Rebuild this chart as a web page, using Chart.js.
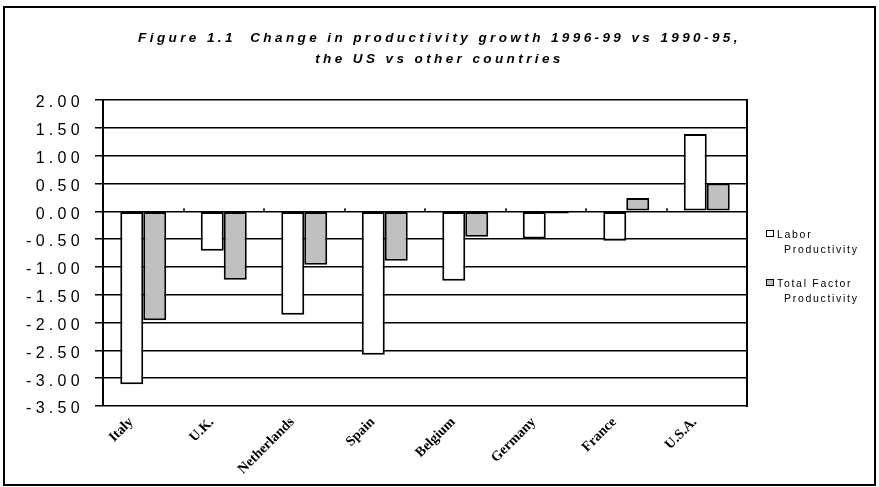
<!DOCTYPE html>
<html>
<head>
<meta charset="utf-8">
<title>Productivity growth</title>
<script src="https://cdn.jsdelivr.net/npm/chart.js@4.4.1/dist/chart.umd.min.js"></script>
<style>
    body { margin: 0; background: #fff; }
    #wrap { position: relative; width: 879px; height: 487px; overflow: hidden; font-family: 'Liberation Sans', Arial, sans-serif; }
    #frame { position: absolute; left: 3px; top: 6px; width: 869px; height: 476px; border: 2px solid #000; }
    #chart { position: absolute; left: 0; top: 0; }
    .title { position: absolute; left: 0; top: 27px; width: 879px; text-align: center; font-weight: bold; font-style: italic; font-size: 13.5px; line-height: 21px; letter-spacing: 3.4px; color: #000; }
    .legend { position: absolute; left: 766px; font-size: 10.5px; line-height: 15px; letter-spacing: 1.7px; color: #000; }
    .legend .box { position: absolute; left: 0; top: 3px; width: 6px; height: 5px; border: 1.5px solid #000; }
    .legend .txt { margin-left: 11px; }
    .legend .txt span { display: block; }
    .legend .txt span + span { margin-left: 7px; }
</style>
</head>
<body>
<div id="wrap">
    <div id="frame"></div>
    <canvas id="chart" width="879" height="487"></canvas>
    <div class="title">Figure 1.1&nbsp; Change in productivity growth 1996-99 vs 1990-95,<br>the US vs other countries</div>
    <div id="legend"></div>
</div>
<script>
// data //
const countries = ['Italy', 'U.K.', 'Netherlands', 'Spain', 'Belgium', 'Germany', 'France', 'U.S.A.'];
const laborProductivity = [-3.11, -0.71, -1.86, -2.58, -1.25, -0.49, -0.53, 1.39];
const totalFactorProductivity = [-1.96, -1.23, -0.96, -0.89, -0.46, -0.04, 0.24, 0.50];
const seriesNames = [['Labor', 'Productivity'], ['Total Factor', 'Productivity']];
const seriesColors = ['#ffffff', '#c0c0c0'];
const yMin = -3.5, yMax = 2, yStep = 0.5;

// small marks on the zero line between countries //
const zeroTicks = {
    id: 'zeroTicks',
    afterDatasetsDraw(chart) {
        const ctx = chart.ctx;
        const x = chart.scales.x, y = chart.scales.y;
        const y0 = y.getPixelForValue(0);
        ctx.save();
        ctx.strokeStyle = '#000';
        ctx.lineWidth = 1.5;
        for (let i = 1; i < countries.length; i++) {
            const px = Math.round((x.getPixelForValue(i - 1) + x.getPixelForValue(i)) / 2);
            ctx.beginPath();
            ctx.moveTo(px, y0 - 3);
            ctx.lineTo(px, y0);
            ctx.stroke();
        }
        ctx.restore();
    }
};

// wide spacing for the value labels, none for the country names //
const spacing = {
    id: 'spacing',
    beforeDraw(chart) { chart.ctx.letterSpacing = '4.3px'; },
    afterDatasetsDraw(chart) { chart.ctx.letterSpacing = '0px'; }
};

const chart = document.querySelector('#chart').getContext('2d');

new Chart(chart, {
    type: 'bar',
    data: {
        labels: countries,
        datasets: [
            {
                label: seriesNames[0].join(' '),
                data: laborProductivity,
                backgroundColor: seriesColors[0],
                borderColor: '#000',
                borderWidth: 2,
                borderSkipped: false
            },
            {
                label: seriesNames[1].join(' '),
                data: totalFactorProductivity,
                backgroundColor: seriesColors[1],
                borderColor: '#000',
                borderWidth: 2,
                borderSkipped: false
            }
        ]
    },
    options: {
        responsive: false,
        animation: false,
        devicePixelRatio: 1,
        barPercentage: 1,
        categoryPercentage: 0.571,
        layout: { padding: { left: 4, right: 132, top: 100, bottom: 0 } },
        plugins: {
            legend: { display: false },
            title: { display: false },
            tooltip: { enabled: false }
        },
        scales: {
            x: {
                grid: { display: false },
                border: { display: false },
                ticks: {
                    z: 1,
                    color: '#000',
                    font: { family: 'Liberation Serif', weight: 'bold', size: 14 },
                    minRotation: 45,
                    maxRotation: 45,
                    autoSkip: false,
                    labelOffset: -12,
                    padding: 0
                },
                afterFit: s => { s.height = 81; }
            },
            y: {
                min: yMin,
                max: yMax,
                ticks: {
                    stepSize: yStep,
                    color: '#000',
                    font: { family: 'Liberation Sans', size: 16 },
                    padding: 11,
                    labelOffset: 3,
                    callback: v => v.toFixed(2)
                },
                grid: { color: '#000', lineWidth: 1.5, tickLength: 8 },
                border: { color: '#000', width: 2 },
                afterFit: s => { s.width = 99; }
            },
            y2: {
                position: 'right',
                min: yMin,
                max: yMax,
                ticks: { display: false },
                grid: { drawOnChartArea: false, drawTicks: false },
                border: { color: '#000', width: 2 },
                afterFit: s => { s.width = 0; }
            }
        }
    },
    plugins: [spacing, zeroTicks]
});

// legend //
const legend = document.querySelector('#legend');
const legendTops = [227, 276];
seriesNames.forEach((lines, i) => {
    const item = document.createElement('div');
    item.className = 'legend';
    item.style.top = legendTops[i] + 'px';
    item.innerHTML = '<div class="box" style="background:' + seriesColors[i] + '"></div>' +
        '<div class="txt">' + lines.map(t => '<span>' + t + '</span>').join('') + '</div>';
    legend.appendChild(item);
});
</script>
</body>
</html>
